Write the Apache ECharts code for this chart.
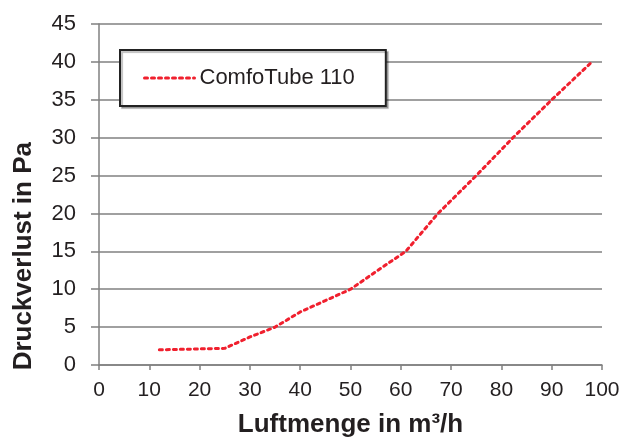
<!DOCTYPE html>
<html><head><meta charset="utf-8">
<script src="https://cdn.jsdelivr.net/npm/echarts@6/dist/echarts.min.js"></script>
<style>html,body{margin:0;padding:0;background:#fff}#c{width:622px;height:437px}</style>
</head><body><div id="c"></div>
<script>
const seriesName = 'ComfoTube 110';
const airflow = [12, 25, 30, 35, 40, 45, 50, 55, 61, 67.4, 75, 82.3, 90, 98];
const pressure = [2, 2.2, 3.7, 5, 7, 8.5, 10, 12.3, 15, 20, 25, 30, 35, 40];
const xTitle = 'Luftmenge in m³/h';
const yTitle = 'Druckverlust in Pa';

const chart = echarts.init(document.getElementById('c'));
const font = 'Liberation Sans, Arial, Helvetica, sans-serif';
const grid = '#808080';
const red = '#f0202e';
chart.setOption({
  animation: false,
  grid: {left: 99, right: 20, top: 24, bottom: 72, outerBoundsMode: 'none', containLabel: false},
  legend: {
    show: true, left: 120, top: 50, orient: 'horizontal',
    backgroundColor: '#fff', borderColor: '#222', borderWidth: 2,
    padding: [17, 31, 17, 23], itemWidth: 50, itemHeight: 20, itemGap: 4,
    shadowColor: 'rgba(0,0,0,0.25)', shadowOffsetX: 2, shadowOffsetY: 2, shadowBlur: 1,
    itemStyle: {color: 'transparent', borderColor: 'transparent', borderWidth: 0, opacity: 0},
    lineStyle: {color: red, width: 3, type: [3, 4], cap: 'round'},
    textStyle: {fontFamily: font, fontSize: 22, color: '#231f20'},
    data: [seriesName]
  },
  graphic: [{
    type: 'text', left: 11, top: 142,
    rotation: Math.PI / 2,
    style: {text: yTitle, fontFamily: font, fontSize: 26, fontWeight: 'bold', fill: '#231f20'}
  }],
  xAxis: {
    type: 'value', min: 0, max: 100, interval: 10,
    name: xTitle, nameLocation: 'middle', nameGap: 47,
    nameTextStyle: {fontFamily: font, fontSize: 26, fontWeight: 'bold', color: '#231f20'},
    axisLine: {show: true, lineStyle: {color: grid, width: 1.5}},
    axisTick: {show: true, length: 5, lineStyle: {color: grid, width: 1.5}},
    axisLabel: {fontFamily: font, fontSize: 21, color: '#231f20', margin: 15},
    splitLine: {show: false}
  },
  yAxis: {
    type: 'value', min: 0, max: 45, interval: 5,
    axisLine: {show: true, lineStyle: {color: grid, width: 1.5}},
    axisTick: {show: true, length: 8, inside: false, lineStyle: {color: grid, width: 1.5}},
    axisLabel: {fontFamily: font, fontSize: 22, color: '#231f20', margin: 23},
    splitLine: {show: true, lineStyle: {color: grid, width: 1.5}}
  },
  series: [{
    name: seriesName, type: 'line', smooth: false, symbol: 'none',
    data: airflow.map((x, i) => [x, pressure[i]]),
    lineStyle: {color: red, width: 3, type: [3, 4], cap: 'round'},
    itemStyle: {color: red}
  }]
});
</script></body></html>
